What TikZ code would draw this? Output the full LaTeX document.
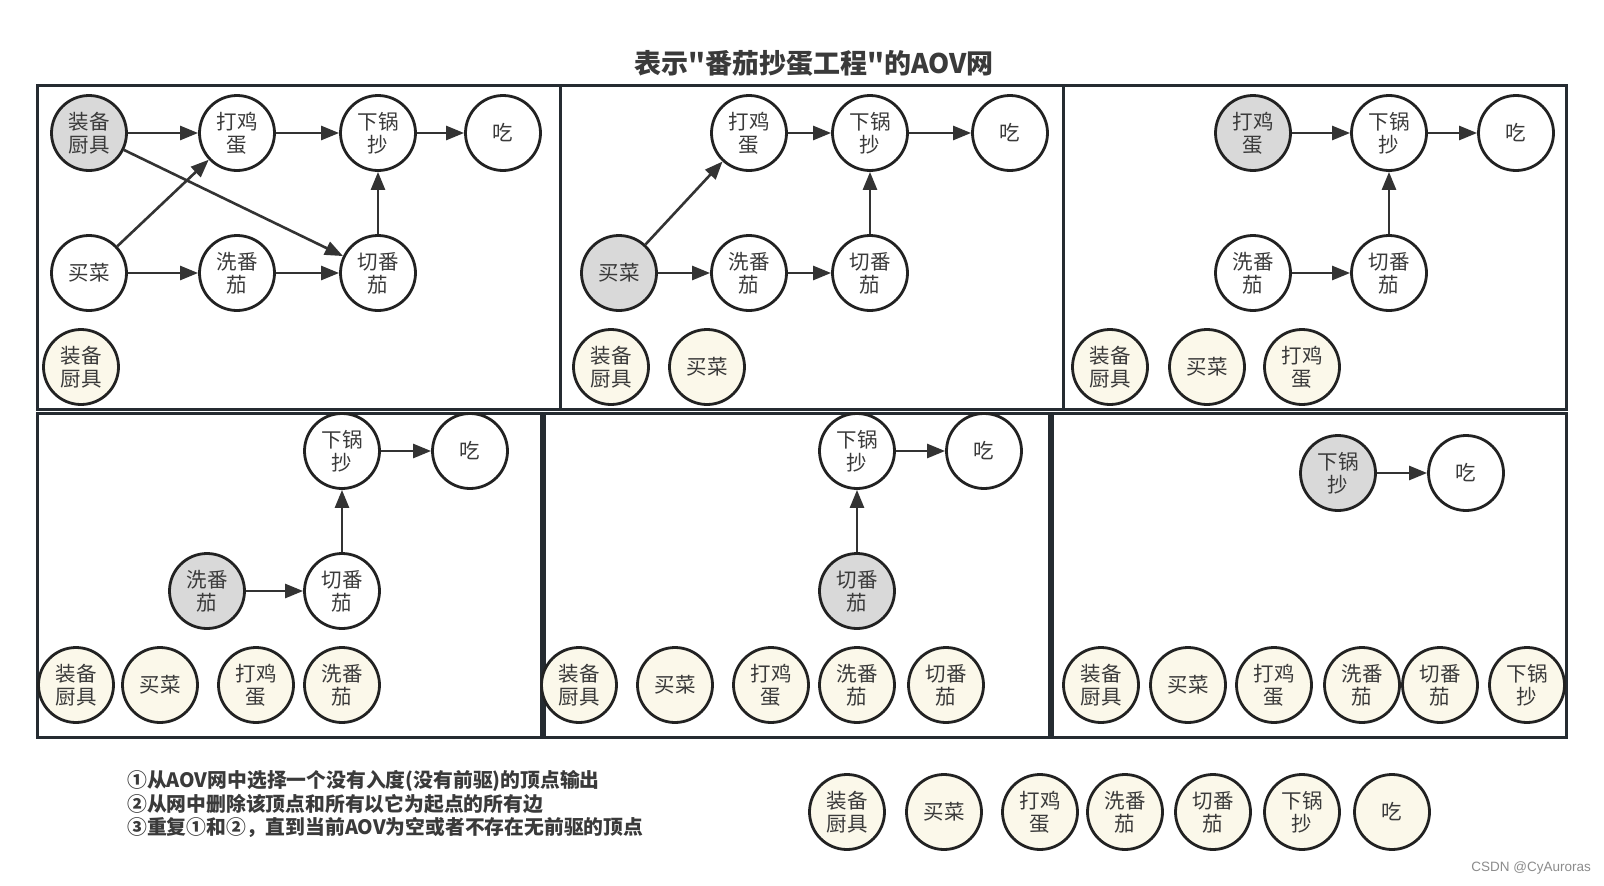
\documentclass[tikz,border=0pt]{standalone}
\usepackage{fontspec}
\setmainfont{Noto Sans CJK SC}
\newfontfamily\plainq{Noto Sans CJK SC}
\newfontfamily\wmfont{Liberation Sans}
\usetikzlibrary{arrows.meta}
\definecolor{nodeline}{HTML}{222222}
\definecolor{graybg}{HTML}{D9D9D9}
\definecolor{creambg}{HTML}{FBF8EA}
\definecolor{txt}{HTML}{3A3A3A}
\definecolor{framec}{HTML}{252B31}
\definecolor{arrowc}{HTML}{333333}
\tikzset{
  vtx/.style={circle, draw=nodeline, line width=2.8pt, minimum size=75pt, inner sep=0pt,
    fill=white, text=txt, font=\fontsize{20.5}{23}\selectfont, align=center},
  cur/.style={vtx, fill=graybg},
  res/.style={vtx, fill=creambg},
  arr/.style={-{Triangle[length=18pt,width=14pt]}, line width=2.6pt, draw=arrowc},
  panel/.style={draw=framec, line width=3pt},
  stepline/.style={anchor=west, inner sep=0pt, text=txt, font=\fontsize{19.8}{22}\selectfont\bfseries},
}
\begin{document}
\begin{tikzpicture}[x=1pt,y=-1pt]
\useasboundingbox[fill=white] (0,0) rectangle (1604,886);

\node[text=txt, font=\fontsize{27}{30}\selectfont\bfseries] (title) at (814,63) {表示{\plainq\bfseries"}番茄抄蛋工程{\plainq\bfseries"}的AOV网};

% panels
\draw[panel] (37,85) rectangle (560,409);
\draw[panel] (560,85) rectangle (1063,409);
\draw[panel] (1063,85) rectangle (1566,409);
\draw[panel] (37,413) rectangle (541,737);
\draw[panel] (544,413) rectangle (1049,737);
\draw[panel] (1052,413) rectangle (1566,737);

% panel 1
\node[cur] (a1) at (89,133) {装备\\厨具};
\node[vtx] (a2) at (237,133) {打鸡\\蛋};
\node[vtx] (a3) at (378,133) {下锅\\抄};
\node[vtx] (a4) at (503,133) {吃};
\node[vtx] (a5) at (89,273) {买菜};
\node[vtx] (a6) at (237,273) {洗番\\茄};
\node[vtx] (a7) at (378,273) {切番\\茄};
\node[res] (ar1) at (81,367) {装备\\厨具};
\draw[arr] (a1) -- (a2);
\draw[arr] (a2) -- (a3);
\draw[arr] (a3) -- (a4);
\draw[arr] (a1) -- (a7);
\draw[arr] (a5) -- (a2);
\draw[arr] (a5) -- (a6);
\draw[arr] (a6) -- (a7);
\draw[arr] (a7) -- (a3);

% panel 2
\node[vtx] (b2) at (749,133) {打鸡\\蛋};
\node[vtx] (b3) at (870,133) {下锅\\抄};
\node[vtx] (b4) at (1010,133) {吃};
\node[cur] (b5) at (619,273) {买菜};
\node[vtx] (b6) at (749,273) {洗番\\茄};
\node[vtx] (b7) at (870,273) {切番\\茄};
\node[res] (br1) at (611,367) {装备\\厨具};
\node[res] (br2) at (707,367) {买菜};
\draw[arr] (b2) -- (b3);
\draw[arr] (b3) -- (b4);
\draw[arr] (b5) -- (b2);
\draw[arr] (b5) -- (b6);
\draw[arr] (b6) -- (b7);
\draw[arr] (b7) -- (b3);

% panel 3
\node[cur] (c2) at (1253,133) {打鸡\\蛋};
\node[vtx] (c3) at (1389,133) {下锅\\抄};
\node[vtx] (c4) at (1516,133) {吃};
\node[vtx] (c6) at (1253,273) {洗番\\茄};
\node[vtx] (c7) at (1389,273) {切番\\茄};
\node[res] (cr1) at (1110,367) {装备\\厨具};
\node[res] (cr2) at (1207,367) {买菜};
\node[res] (cr3) at (1302,367) {打鸡\\蛋};
\draw[arr] (c2) -- (c3);
\draw[arr] (c3) -- (c4);
\draw[arr] (c6) -- (c7);
\draw[arr] (c7) -- (c3);

% panel 4
\node[vtx] (d3) at (342,451) {下锅\\抄};
\node[vtx] (d4) at (470,451) {吃};
\node[cur] (d6) at (207,591) {洗番\\茄};
\node[vtx] (d7) at (342,591) {切番\\茄};
\node[res] (dr1) at (76,685) {装备\\厨具};
\node[res] (dr2) at (160,685) {买菜};
\node[res] (dr3) at (256,685) {打鸡\\蛋};
\node[res] (dr4) at (342,685) {洗番\\茄};
\draw[arr] (d3) -- (d4);
\draw[arr] (d6) -- (d7);
\draw[arr] (d7) -- (d3);

% panel 5
\node[vtx] (e3) at (857,451) {下锅\\抄};
\node[vtx] (e4) at (984,451) {吃};
\node[cur] (e7) at (857,591) {切番\\茄};
\node[res] (er1) at (579,685) {装备\\厨具};
\node[res] (er2) at (675,685) {买菜};
\node[res] (er3) at (771,685) {打鸡\\蛋};
\node[res] (er4) at (857,685) {洗番\\茄};
\node[res] (er5) at (946,685) {切番\\茄};
\draw[arr] (e3) -- (e4);
\draw[arr] (e7) -- (e3);

% panel 6
\node[cur] (f3) at (1338,473) {下锅\\抄};
\node[vtx] (f4) at (1466,473) {吃};
\node[res] (fr1) at (1101,685) {装备\\厨具};
\node[res] (fr2) at (1188,685) {买菜};
\node[res] (fr3) at (1274,685) {打鸡\\蛋};
\node[res] (fr4) at (1362,685) {洗番\\茄};
\node[res] (fr5) at (1440,685) {切番\\茄};
\node[res] (fr6) at (1527,685) {下锅\\抄};
\draw[arr] (f3) -- (f4);

% final order
\node[res] (g1) at (847,812) {装备\\厨具};
\node[res] (g2) at (944,812) {买菜};
\node[res] (g3) at (1040,812) {打鸡\\蛋};
\node[res] (g4) at (1125,812) {洗番\\茄};
\node[res] (g5) at (1213,812) {切番\\茄};
\node[res] (g6) at (1302,812) {下锅\\抄};
\node[res] (g7) at (1392,812) {吃};

% steps
\node[stepline] (s1) at (127,781) {①从AOV网中选择一个没有入度(没有前驱)的顶点输出};
\node[stepline] (s2) at (127,804) {②从网中删除该顶点和所有以它为起点的所有边};
\node[stepline] (s3) at (127,827) {③重复①和②，直到当前AOV为空或者不存在无前驱的顶点};

% watermark
\node[text=black!45, font=\wmfont\fontsize{13.5}{15}\selectfont, anchor=east, inner sep=0pt] (wm) at (1591,868) {CSDN @CyAuroras};
\end{tikzpicture}
\end{document}
